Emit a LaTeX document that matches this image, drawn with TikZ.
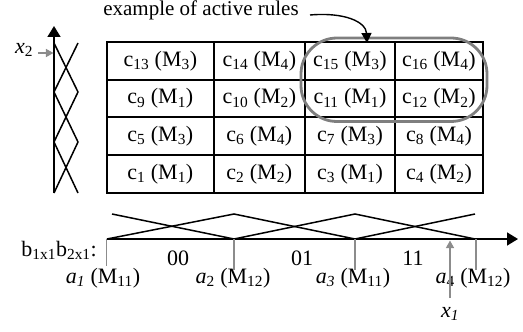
\documentclass[tikz,border=0pt]{standalone}
\usepackage{fontspec}
\setmainfont{Liberation Serif}
\usetikzlibrary{arrows.meta,positioning,fit,calc}
\definecolor{rulegray}{HTML}{7F7F7F}
\definecolor{tickgray}{HTML}{8C8C8C}

\begin{document}
\begin{tikzpicture}[
  scale=0.5, x=1pt, y=-1pt, every node/.style={transform shape},
  font=\fontsize{22}{26}\selectfont,
  cell/.style={draw, line width=1pt, outer sep=0pt, inner sep=0pt, minimum height=37.75pt},
  activebox/.style={draw=rulegray, line width=1.4pt, rounded corners=18pt, inner sep=2pt},
  axis/.style={-{Triangle[length=5.5pt, width=6.5pt]}, line width=0.8pt},
  mf/.style={line width=0.75pt},
  tick/.style={draw=tickgray, line width=0.75pt},
  inp/.style={-{Triangle[length=3.8pt, width=4pt]}, draw=tickgray, line width=0.8pt},
  ptr/.style={-{Triangle[length=5pt, width=5pt]}, line width=0.7pt},
  lbl/.style={inner sep=1pt},
]
  \useasboundingbox (0,0) rectangle (523,331);
  % --- rule table ---
  \node[cell, minimum width=106.7pt, anchor=north west] (c13) at (107,42) {c\textsubscript{13} (M\textsubscript{3})};
  \node[cell, minimum width=91.3pt, right=0pt of c13] (c14) {c\textsubscript{14} (M\textsubscript{4})};
  \node[cell, minimum width=90pt, right=0pt of c14] (c15) {c\textsubscript{15} (M\textsubscript{3})};
  \node[cell, minimum width=88pt, right=0pt of c15] (c16) {c\textsubscript{16} (M\textsubscript{4})};
  \node[cell, minimum width=106.7pt, below=0pt of c13] (c9) {c\textsubscript{9} (M\textsubscript{1})};
  \node[cell, minimum width=91.3pt, right=0pt of c9] (c10) {c\textsubscript{10} (M\textsubscript{2})};
  \node[cell, minimum width=90pt, right=0pt of c10] (c11) {c\textsubscript{11} (M\textsubscript{1})};
  \node[cell, minimum width=88pt, right=0pt of c11] (c12) {c\textsubscript{12} (M\textsubscript{2})};
  \node[cell, minimum width=106.7pt, below=0pt of c9] (c5) {c\textsubscript{5} (M\textsubscript{3})};
  \node[cell, minimum width=91.3pt, right=0pt of c5] (c6) {c\textsubscript{6} (M\textsubscript{4})};
  \node[cell, minimum width=90pt, right=0pt of c6] (c7) {c\textsubscript{7} (M\textsubscript{3})};
  \node[cell, minimum width=88pt, right=0pt of c7] (c8) {c\textsubscript{8} (M\textsubscript{4})};
  \node[cell, minimum width=106.7pt, below=0pt of c5] (c1) {c\textsubscript{1} (M\textsubscript{1})};
  \node[cell, minimum width=91.3pt, right=0pt of c1] (c2) {c\textsubscript{2} (M\textsubscript{2})};
  \node[cell, minimum width=90pt, right=0pt of c2] (c3) {c\textsubscript{3} (M\textsubscript{1})};
  \node[cell, minimum width=88pt, right=0pt of c3] (c4) {c\textsubscript{4} (M\textsubscript{2})};
  % --- active rules ---
  \node[activebox, fit=(c15)(c12)] (active) {};
  \node[lbl, font=\fontsize{21}{25}\selectfont] (ex) at (201,10) {example of active rules};
  \coordinate (exend) at (310,15);
  \coordinate (extip) at (367,43);
  \draw[ptr] (exend) .. controls (345,12) and (366,22) .. (extip);
  % --- x2 axis and its sets ---
  \coordinate (ylo) at (54,193);
  \coordinate (yhi) at (54,26);
  \draw[axis] (ylo) -- (yhi);
  \draw[mf] (54,43) -- (78,92) -- (54,142) -- (78,193);
  \draw[mf] (78,43) -- (54,92) -- (78,142) -- (54,193);
  \node[lbl] (xtwo) at (24,50) {\textit{x}\textsubscript{2}};
  \coordinate (xtwoin) at (53.5,53);
  \draw[inp] (38,53) -- (xtwoin);
  % --- x1 axis and its sets ---
  \coordinate (xlo) at (107,239);
  \coordinate (xhi) at (518,239);
  \draw[axis] (xlo) -- (xhi);
  \draw[mf] (112,214) -- (234,239) -- (355,214) -- (475,239);
  \draw[mf] (107,239) -- (234,214) -- (355,239) -- (475,214);
  \node[lbl, anchor=east] (bits) at (98,250) {b\textsubscript{1x1}b\textsubscript{2x1}:};
  \node (s00) at (178,258) {00};
  \node (s01) at (302,258) {01};
  \node (s11) at (413,258) {11};
  % --- set centres ---
  \node[lbl, anchor=north] (a1) at (103,267) {\textit{a}\textsubscript{\textit{1}} (M\textsubscript{11})};
  \node[lbl, anchor=north] (a2) at (233,267) {\textit{a}\textsubscript{2} (M\textsubscript{12})};
  \node[lbl, anchor=north] (a3) at (353,267) {\textit{a}\textsubscript{\textit{3}} (M\textsubscript{11})};
  \node[lbl, anchor=north] (a4) at (473,267) {\textit{a}\textsubscript{4} (M\textsubscript{12})};
  \draw[tick] (106.5,239) -- (106.5,266);
  \draw[tick] (234,239) -- (234,270);
  \draw[tick] (355,239) -- (355,270);
  \draw[tick] (476,239) -- (476,270);
  % --- input x1 ---
  \node[lbl] (xone) at (450,314) {\textit{x}\textsubscript{\textit{1}}};
  \coordinate (xonein) at (450,240.5);
  \draw[inp] (450,298) -- (xonein);
\end{tikzpicture}
\end{document}
